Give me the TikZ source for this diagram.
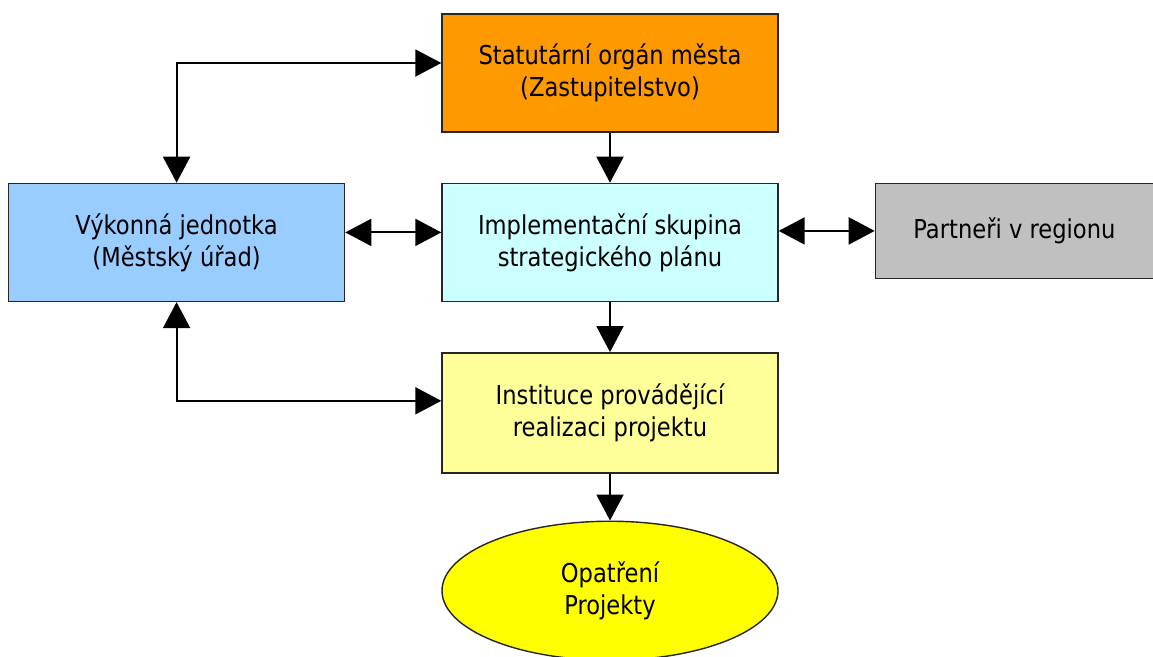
\documentclass[tikz,border=0pt]{standalone}
\usepackage{fontspec}
\setmainfont{DejaVu Sans}[FakeStretch=0.87]
\usepackage{tikz}
\usetikzlibrary{arrows.meta}
\usetikzlibrary{positioning}
\usetikzlibrary{shapes.geometric}
\definecolor{orgcol}{HTML}{FF9900}
\definecolor{impcol}{HTML}{CCFFFF}
\definecolor{vykcol}{HTML}{99CCFF}
\definecolor{parcol}{HTML}{C0C0C0}
\definecolor{inscol}{HTML}{FFFF99}
\definecolor{opacol}{HTML}{FFFF00}

\begin{document}
\begin{tikzpicture}[>={Triangle[length=0.52cm,width=0.54cm]},line width=1.1pt]
		\tikzstyle{box}=[rectangle,draw=black!85,line width=0.8pt,
			minimum width=6.72cm,minimum height=2.36cm,inner sep=0pt,
			align=center,font=\fontsize{14.8}{18.2}\selectfont];
		\useasboundingbox(0,0)rectangle(23.06,-13.12);
		\node[box,fill=orgcol](org)at(12.2,-1.46){Statutární orgán města\\(Zastupitelstvo)};
		\node[box,fill=impcol,below=1cm of org](imp){Implementační skupina\\strategického plánu};
		\node[box,fill=vykcol,left=1.92cm of imp](vyk){Výkonná jednotka\\(Městský úřad)};
		\node[box,fill=parcol,minimum width=5.56cm,minimum height=1.9cm,
			right=1.92cm of imp.north east,anchor=north west](par){Partneři v regionu};
		\node[box,fill=inscol,minimum height=2.4cm,below=1cm of imp](ins){Instituce provádějící\\realizaci projektu};
		\node[box,ellipse,fill=opacol,minimum height=2.78cm,below=0.94cm of ins](opa){Opatření\\Projekty};

		\draw[->](org)--(imp);
		\draw[->](imp)--(ins);
		\draw[->](ins)--(opa);
		\draw[<->](vyk.north)|-([yshift=0.2cm]org.west);
		\draw[<->]([yshift=0.2cm]vyk.east)--([yshift=0.2cm]imp.west);
		\draw[<->](imp.east|-par.west)--(par.west);
		\draw[<->](vyk.south)|-([yshift=0.24cm]ins.west);
	\end{tikzpicture}
\end{document}
